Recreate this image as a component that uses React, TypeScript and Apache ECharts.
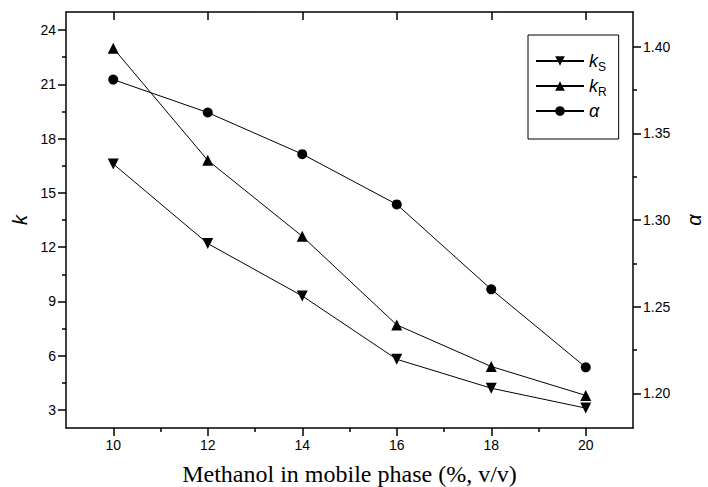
import React, { useEffect, useRef } from 'react';
import * as echarts from 'echarts';

const methanol = [10, 12, 14, 16, 18, 20];
const kS = [16.6, 12.2, 9.3, 5.8, 4.2, 3.1];
const kR = [23.0, 16.8, 12.6, 7.7, 5.4, 3.8];
const alpha = [1.381, 1.362, 1.338, 1.309, 1.26, 1.215];

const xMajor = [10, 12, 14, 16, 18, 20];
const xMinor = [11, 13, 15, 17, 19];
const kMajor = [3, 6, 9, 12, 15, 18, 21, 24];
const kMinor = [4.5, 7.5, 10.5, 13.5, 16.5, 19.5, 22.5];
const aMajor = [1.2, 1.25, 1.3, 1.35, 1.4];
const aMinor = [1.225, 1.275, 1.325, 1.375];

const LBL = 'Liberation Sans';

export default function App() {
  const ref = useRef<HTMLDivElement>(null);
  useEffect(() => {
    if (!ref.current) return;
    const chart = echarts.init(ref.current, null, { renderer: 'svg' });
    const line = { lineStyle: { color: '#000', width: 1.5 } };
    const pair = (a: number[], b: number[]) => a.map((v, i) => [v, b[i]]);
    chart.setOption({
      animation: false,
      backgroundColor: '#fff',
      grid: { left: 66, right: 75, top: 12, bottom: 59, containLabel: false, outerBoundsMode: 'none' },
      legend: {
        left: 528,
        top: 35,
        orient: 'vertical',
        borderColor: '#000',
        borderWidth: 1,
        padding: [17, 12, 19, 7],
        itemWidth: 48,
        itemHeight: 12,
        itemGap: 4,
        data: ['kS', 'kR', 'alpha'],
        formatter: (n: string) =>
          n === 'kS' ? '{i|k}{s|S}' : n === 'kR' ? '{i|k}{s|R}' : '{a|α}',
        textStyle: {
          color: '#000',
          rich: {
            i: { fontFamily: LBL, fontStyle: 'italic', fontSize: 18, color: '#000' },
            a: { fontFamily: LBL, fontStyle: 'italic', fontSize: 18, color: '#000' },
            s: { fontFamily: LBL, fontSize: 12, color: '#000', padding: [12, 0, 0, 0] },
          },
        },
      },
      xAxis: [
        {
          type: 'value', min: 9, max: 21, position: 'bottom',
          name: 'Methanol in mobile phase (%, v/v)', nameLocation: 'middle', nameGap: 34,
          nameTextStyle: { fontFamily: 'Liberation Serif', fontSize: 24, color: '#000' },
          axisLine: { show: true, ...line },
          axisTick: { show: true, customValues: xMajor, length: 8, inside: false, lineStyle: { color: '#000', width: 1.5 } },
          axisLabel: { show: true, customValues: xMajor, fontFamily: LBL, fontSize: 14, color: '#000', margin: 10 },
          splitLine: { show: false },
        },
        {
          type: 'value', min: 9, max: 21, position: 'bottom',
          axisLine: { show: false },
          axisTick: { show: true, customValues: xMinor, length: 4, lineStyle: { color: '#000', width: 1.5 } },
          axisLabel: { show: false },
          splitLine: { show: false },
        },
        {
          type: 'value', min: 9, max: 21, position: 'top',
          axisLine: { show: true, ...line },
          axisTick: { show: true, customValues: xMajor, length: 8, inside: true, lineStyle: { color: '#000', width: 1.5 } },
          axisLabel: { show: false },
          splitLine: { show: false },
        },
      ],
      yAxis: [
        {
          type: 'value', min: 2, max: 25, position: 'left',
          name: 'k', nameLocation: 'middle', nameGap: 33,
          nameTextStyle: { fontFamily: LBL, fontStyle: 'italic', fontSize: 20, color: '#000' },
          axisLine: { show: true, ...line },
          axisTick: { show: true, customValues: kMajor, length: 8, lineStyle: { color: '#000', width: 1.5 } },
          axisLabel: { show: true, customValues: kMajor, fontFamily: LBL, fontSize: 14, color: '#000', margin: 10 },
          splitLine: { show: false },
        },
        {
          type: 'value', min: 2, max: 25, position: 'left',
          axisLine: { show: false },
          axisTick: { show: true, customValues: kMinor, length: 4, lineStyle: { color: '#000', width: 1.5 } },
          axisLabel: { show: false },
          splitLine: { show: false },
        },
        {
          type: 'value', min: 1.18, max: 1.42, position: 'right',
          name: 'α', nameLocation: 'middle', nameGap: 51,
          nameTextStyle: { fontFamily: LBL, fontStyle: 'italic', fontSize: 20, color: '#000' },
          axisLine: { show: true, ...line },
          axisTick: { show: true, customValues: aMajor, length: 8, lineStyle: { color: '#000', width: 1.5 } },
          axisLabel: {
            show: true, customValues: aMajor, fontFamily: LBL, fontSize: 14, color: '#000', margin: 10,
            formatter: (v: number) => v.toFixed(2),
          },
          splitLine: { show: false },
        },
        {
          type: 'value', min: 1.18, max: 1.42, position: 'right',
          axisLine: { show: false },
          axisTick: { show: true, customValues: aMinor, length: 4, lineStyle: { color: '#000', width: 1.5 } },
          axisLabel: { show: false },
          splitLine: { show: false },
        },
      ],
      series: [
        {
          name: 'kS', type: 'line', xAxisIndex: 0, yAxisIndex: 0,
          data: pair(methanol, kS),
          symbol: 'triangle', symbolRotate: 180, symbolSize: 11,
          lineStyle: { color: '#000', width: 1 },
          itemStyle: { color: '#000' },
        },
        {
          name: 'kR', type: 'line', xAxisIndex: 0, yAxisIndex: 0,
          data: pair(methanol, kR),
          symbol: 'triangle', symbolSize: 11,
          lineStyle: { color: '#000', width: 1 },
          itemStyle: { color: '#000' },
        },
        {
          name: 'alpha', type: 'line', xAxisIndex: 0, yAxisIndex: 2,
          data: pair(methanol, alpha),
          symbol: 'circle', symbolSize: 10,
          lineStyle: { color: '#000', width: 1 },
          itemStyle: { color: '#000' },
        },
      ],
    });
    return () => chart.dispose();
  }, []);
  return (
    <div
      ref={ref}
      style={{ position: 'fixed', left: 0, top: 0, width: 708, height: 487, background: '#fff' }}
    />
  );
}
